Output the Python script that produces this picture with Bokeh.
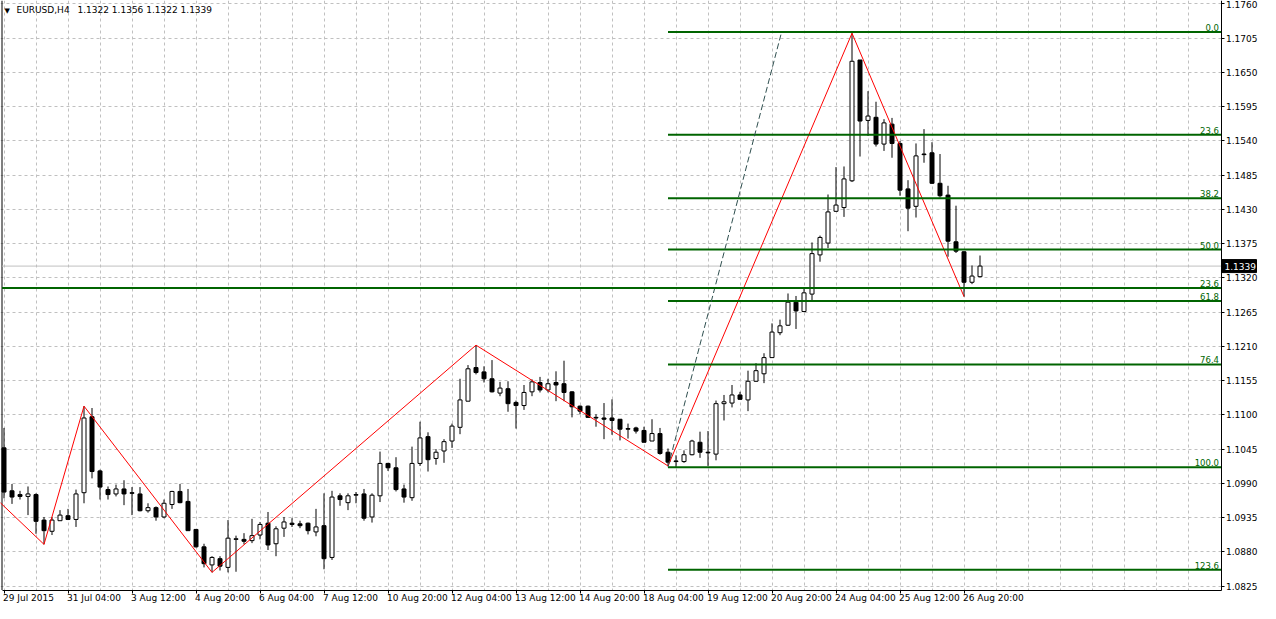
import numpy as np
from bokeh.plotting import figure
from bokeh.models import Range1d, FixedTicker, Label
from bokeh.core.properties import value
from bokeh.embed import file_html
from bokeh.resources import INLINE

# ---- data (EURUSD H4 candles) ----
opens = [1.1047, 1.0978, 1.0972, 1.0969, 1.0972, 1.0931, 1.0913, 1.0930, 1.0938, 1.0932,
         1.0975, 1.1097, 1.1010, 1.0980, 1.0973, 1.0981, 1.0975, 1.0973, 1.0946, 1.0951,
         1.0936, 1.0956, 1.0977, 1.0961, 1.0916, 1.0888, 1.0859, 1.0869, 1.0855, 1.0900,
         1.0900, 1.0898, 1.0907, 1.0926, 1.0893, 1.0918, 1.0926, 1.0925, 1.0926, 1.0912,
         1.0922, 1.0871, 1.0970, 1.0959, 1.0971, 1.0973, 1.0936, 1.0970, 1.1022, 1.1015,
         1.0981, 1.0967, 1.1022, 1.1065, 1.1030, 1.1042, 1.1058, 1.1080, 1.1122, 1.1176,
         1.1169, 1.1158, 1.1135, 1.1142, 1.1120, 1.1115, 1.1137, 1.1152, 1.1140, 1.1152,
         1.1150, 1.1137, 1.1114, 1.1114, 1.1096, 1.1095, 1.1095, 1.1093, 1.1078, 1.1079,
         1.1075, 1.1058, 1.1070, 1.1040, 1.1026, 1.1025, 1.1036, 1.1056, 1.1040, 1.1037,
         1.1118, 1.1119, 1.1132, 1.1124, 1.1154, 1.1166, 1.1192, 1.1232, 1.1244, 1.1281,
         1.1266, 1.1294, 1.1357, 1.1376, 1.1427, 1.1433, 1.1476, 1.1670, 1.1573, 1.1578,
         1.1535, 1.1567, 1.1536, 1.1463, 1.1435, 1.1519, 1.1521, 1.1472, 1.1453, 1.1378,
         1.1362, 1.1313, 1.1322]
highs = [1.1079, 1.0989, 1.0978, 1.0985, 1.0974, 1.0936, 1.0936, 1.0947, 1.0949, 1.0980,
         1.1114, 1.1111, 1.1012, 1.0985, 1.0988, 1.0995, 1.0984, 1.0984, 1.0958, 1.0953,
         1.0964, 1.0978, 1.0989, 1.0981, 1.0916, 1.0893, 1.0873, 1.0873, 1.0931, 1.0906,
         1.0910, 1.0933, 1.0928, 1.0944, 1.0921, 1.0936, 1.0934, 1.0930, 1.0927, 1.0949,
         1.0974, 1.0978, 1.0974, 1.0974, 1.0976, 1.0981, 1.0974, 1.1041, 1.1023, 1.1032,
         1.0988, 1.1049, 1.1089, 1.1072, 1.1045, 1.1061, 1.1086, 1.1158, 1.1180, 1.1212,
         1.1178, 1.1188, 1.1153, 1.1154, 1.1123, 1.1148, 1.1157, 1.1161, 1.1158, 1.1170,
         1.1187, 1.1138, 1.1115, 1.1115, 1.1101, 1.1119, 1.1125, 1.1093, 1.1086, 1.1081,
         1.1081, 1.1093, 1.1079, 1.1046, 1.1035, 1.1043, 1.1060, 1.1073, 1.1074, 1.1123,
         1.1132, 1.1148, 1.1137, 1.1171, 1.1183, 1.1199, 1.1247, 1.1253, 1.1295, 1.1291,
         1.1305, 1.1377, 1.1388, 1.1454, 1.1498, 1.1499, 1.1713, 1.1670, 1.1620, 1.1603,
         1.1575, 1.1577, 1.1540, 1.1477, 1.1536, 1.1559, 1.1538, 1.1519, 1.1468, 1.1436,
         1.1363, 1.1340, 1.1356]
lows = [1.0966, 1.0957, 1.0964, 1.0939, 1.0909, 1.0892, 1.0907, 1.0930, 1.0931, 1.0920,
        1.0958, 1.0998, 1.0964, 1.0964, 1.0969, 1.0955, 1.0939, 1.0945, 1.0943, 1.0930,
        1.0934, 1.0949, 1.0958, 1.0914, 1.0887, 1.0855, 1.0847, 1.0850, 1.0847, 1.0848,
        1.0892, 1.0894, 1.0900, 1.0883, 1.0873, 1.0904, 1.0920, 1.0918, 1.0908, 1.0905,
        1.0852, 1.0867, 1.0954, 1.0947, 1.0958, 1.0930, 1.0927, 1.0960, 1.1010, 1.0977,
        1.0959, 1.0962, 1.1018, 1.1009, 1.1020, 1.1023, 1.1047, 1.1069, 1.1122, 1.1165,
        1.1152, 1.1136, 1.1130, 1.1105, 1.1078, 1.1108, 1.1130, 1.1136, 1.1136, 1.1122,
        1.1122, 1.1096, 1.1101, 1.1095, 1.1081, 1.1061, 1.1068, 1.1059, 1.1062, 1.1070,
        1.1056, 1.1058, 1.1036, 1.1018, 1.1015, 1.1023, 1.1035, 1.1031, 1.1018, 1.1027,
        1.1091, 1.1112, 1.1125, 1.1106, 1.1153, 1.1151, 1.1192, 1.1228, 1.1243, 1.1238,
        1.1265, 1.1284, 1.1346, 1.1368, 1.1426, 1.1418, 1.1474, 1.1515, 1.1548, 1.1531,
        1.1524, 1.1513, 1.1452, 1.1395, 1.1417, 1.1505, 1.1471, 1.1449, 1.1354, 1.1360,
        1.1290, 1.1310, 1.1321]
closes = [1.0976, 1.0968, 1.0969, 1.0973, 1.0929, 1.0914, 1.0931, 1.0939, 1.0932, 1.0973,
          1.1095, 1.1009, 1.0984, 1.0972, 1.0981, 1.0973, 1.0974, 1.0946, 1.0951, 1.0936,
          1.0958, 1.0977, 1.0959, 1.0914, 1.0888, 1.0861, 1.0871, 1.0857, 1.0902, 1.0901,
          1.0897, 1.0906, 1.0924, 1.0891, 1.0917, 1.0928, 1.0924, 1.0922, 1.0914, 1.0920,
          1.0869, 1.0968, 1.0964, 1.0970, 1.0972, 1.0934, 1.0971, 1.1022, 1.1015, 1.0980,
          1.0968, 1.1022, 1.1063, 1.1028, 1.1040, 1.1057, 1.1082, 1.1124, 1.1174, 1.1168,
          1.1158, 1.1137, 1.1143, 1.1118, 1.1115, 1.1136, 1.1153, 1.1140, 1.1150, 1.1148,
          1.1136, 1.1113, 1.1106, 1.1096, 1.1095, 1.1093, 1.1091, 1.1077, 1.1077, 1.1074,
          1.1056, 1.1070, 1.1038, 1.1024, 1.1025, 1.1036, 1.1058, 1.1040, 1.1039, 1.1118,
          1.1121, 1.1132, 1.1125, 1.1154, 1.1171, 1.1192, 1.1233, 1.1243, 1.1281, 1.1267,
          1.1296, 1.1359, 1.1385, 1.1426, 1.1437, 1.1479, 1.1668, 1.1572, 1.1580, 1.1535,
          1.1569, 1.1536, 1.1461, 1.1432, 1.1516, 1.1518, 1.1472, 1.1452, 1.1379, 1.1363,
          1.1313, 1.1323, 1.1339]

x_tick_bars = [0, 8, 16, 24, 32, 40, 48, 56, 64, 72, 80, 88, 96, 104, 112, 120]
x_tick_labels = ["29 Jul 2015", "31 Jul 04:00", "3 Aug 12:00", "4 Aug 20:00", "6 Aug 04:00",
                 "7 Aug 12:00", "10 Aug 20:00", "12 Aug 04:00", "13 Aug 12:00", "14 Aug 20:00",
                 "18 Aug 04:00", "19 Aug 12:00", "20 Aug 20:00", "24 Aug 04:00", "25 Aug 12:00",
                 "26 Aug 20:00"]
y_ticks = [1.0825, 1.0880, 1.0935, 1.0990, 1.1045, 1.1100, 1.1155, 1.1210, 1.1265,
           1.1320, 1.1375, 1.1430, 1.1485, 1.1540, 1.1595, 1.1650, 1.1705, 1.1760]
y_tick_labels = ["1.0825", "1.0880", "1.0935", "1.0990", "1.1045", "1.1100", "1.1155",
                 "1.1210", "1.1265", "1.1320", "1.1375", "1.1430", "1.1485", "1.1540",
                 "1.1595", "1.1650", "1.1705", "1.1760"]

zigzag_bars = [-3, 5, 10, 26, 59, 83, 106, 120]
zigzag_prices = [1.0990, 1.0892, 1.1114, 1.0847, 1.1212, 1.1018, 1.1713, 1.1290]

fib_ratios = [0.0, 23.6, 38.2, 50.0, 61.8, 76.4, 100.0, 123.6]
fib_high = 1.1715
fib_low = 1.1016
fib_start_bar = 83
fib_trend_bars = [83, 97.2]
fib_trend_prices = [1.1016, 1.1715]

old_fib_price = 1.1304
old_fib_label = "23.6"
last_price = 1.1339
last_price_text = "1.1339"
symbol_text = "EURUSD,H4"
ohlc_text = "1.1322 1.1356 1.1322 1.1339"

# ---- layout constants (pixels) ----
FONT = "DejaVu Sans"
FW, FH = 1260, 603
PX_PER_BAR = 8.0
FIRST_BAR_PX = 3.5          # centre of bar 0
AXIS_PX = 1220.5            # right price axis line
BORDER_PX = 1.5             # left border line
PLOT_TOP_PX, PLOT_BOTTOM_PX = 2.0, 589.5
PLOT_TOP_PRICE, PLOT_BOTTOM_PRICE = 1.17624, 1.08187

x0 = -FIRST_BAR_PX / PX_PER_BAR
x1 = x0 + FW / PX_PER_BAR
x_axis = x0 + AXIS_PX / PX_PER_BAR
x_border = x0 + BORDER_PX / PX_PER_BAR
ppu = (PLOT_BOTTOM_PX - PLOT_TOP_PX) / (PLOT_TOP_PRICE - PLOT_BOTTOM_PRICE)  # px per price unit
y1 = PLOT_TOP_PRICE + PLOT_TOP_PX / ppu
y0 = y1 - FH / ppu

p = figure(frame_width=FW, frame_height=FH,
           x_range=Range1d(x0, x1), y_range=Range1d(y0, y1),
           output_backend="svg", toolbar_location=None,
           y_axis_location="right", x_axis_location="below",
           min_border_left=0, min_border_top=0, min_border_right=0, min_border_bottom=0)
p.outline_line_color = None
p.background_fill_color = "white"
p.border_fill_color = "white"

# grid
p.xgrid.ticker = FixedTicker(ticks=list(range(0, 152, 4)))
p.xgrid.grid_line_color = "#c0c0c0"
p.xgrid.grid_line_dash = "3 3"
p.ygrid.grid_line_color = "#c0c0c0"
p.ygrid.grid_line_dash = "3 3"

# white margins covering the grid outside the plot area
p.quad(left=[x_axis, x0 - 1], right=[x1 + 1, x1 + 1],
       top=[y1 + 1, PLOT_BOTTOM_PRICE], bottom=[y0 - 1, y0 - 1],
       fill_color="white", line_color=None)

# axes fixed at the plot edges
p.yaxis.fixed_location = x_axis
p.yaxis.bounds = (PLOT_BOTTOM_PRICE, y1)
p.yaxis.ticker = FixedTicker(ticks=y_ticks)
p.yaxis.major_label_overrides = {t: s for t, s in zip(y_ticks, y_tick_labels)}
p.xaxis.fixed_location = PLOT_BOTTOM_PRICE
p.xaxis.bounds = (x_border, x_axis)
p.xaxis.ticker = FixedTicker(ticks=x_tick_bars)
p.xaxis.major_label_overrides = {b: "" for b in x_tick_bars}
for ax in (p.xaxis, p.yaxis):
    ax.axis_line_color = "black"
    ax.major_tick_line_color = "black"
    ax.major_tick_in = 0
    ax.major_tick_out = 3
    ax.minor_tick_line_color = None
    ax.major_label_text_font = FONT
    ax.major_label_text_font_size = "9px"
    ax.major_label_text_color = "black"
    ax.major_label_standoff = 2

# left border
p.segment([x_border], [PLOT_BOTTOM_PRICE], [x_border], [y1], line_color="black", line_width=1)

# date labels, left-aligned at their ticks
p.text(x_tick_bars, [PLOT_BOTTOM_PRICE] * len(x_tick_bars), text=x_tick_labels,
       text_align="left", text_baseline="top", x_offset=-1, y_offset=3,
       text_font=value(FONT), text_font_size="9px", text_color="black")

# current price line
p.segment([x_border], [last_price], [x_axis], [last_price], line_color="#c0c0c0", line_width=1)

# candles
o = np.array(opens); h = np.array(highs); l = np.array(lows); c = np.array(closes)
idx = np.arange(len(o))
up = c >= o
p.segment(idx, h, idx, l, line_color="black", line_width=1)
p.vbar(x=idx[up], width=0.5, top=c[up], bottom=o[up], fill_color="white", line_color="black", line_width=1)
p.vbar(x=idx[~up], width=0.5, top=o[~up], bottom=c[~up], fill_color="black", line_color="black", line_width=1)

# zigzag
p.line(zigzag_bars, zigzag_prices, line_color="#ff0000", line_width=1)

# fibonacci
fib_prices = [fib_high - r / 100.0 * (fib_high - fib_low) for r in fib_ratios]
n = len(fib_prices)
p.segment([fib_start_bar] * n, fib_prices, [x_axis] * n, fib_prices, line_color="#006400", line_width=2)
p.line(fib_trend_bars, fib_trend_prices, line_color="#2f4f4f", line_width=1, line_dash="6 3")
p.text([x_axis - 0.25] * n, fib_prices, text=[f"{r:.1f}" for r in fib_ratios],
       text_align="right", text_baseline="bottom", y_offset=-1,
       text_font=value(FONT), text_font_size="8.5px", text_color="#006400")

# older fib level across the chart
p.segment([x_border], [old_fib_price], [x_axis], [old_fib_price], line_color="#006400", line_width=2)
p.text([x_axis - 0.25], [old_fib_price], text=[old_fib_label],
       text_align="right", text_baseline="bottom", y_offset=-1,
       text_font=value(FONT), text_font_size="8.5px", text_color="#006400")

# last price tag on the price axis
tag_h = 6.5 / ppu
p.quad(left=[x_axis + 0.5 / PX_PER_BAR], right=[x_axis + 35.5 / PX_PER_BAR],
       top=[last_price + tag_h], bottom=[last_price - tag_h],
       fill_color="black", line_color="black")
p.text([x_axis + 3.5 / PX_PER_BAR], [last_price], text=[last_price_text],
       text_align="left", text_baseline="middle",
       text_font=value(FONT), text_font_size="9px", text_color="white")

# header
p.add_layout(Label(x=4, y=FH - 6, x_units="screen", y_units="screen", text="\u25bc",
                   text_font=FONT, text_font_size="7px", text_color="black", text_baseline="top"))
p.add_layout(Label(x=16, y=FH - 4, x_units="screen", y_units="screen", text=symbol_text,
                   text_font=FONT, text_font_size="9px", text_color="black", text_baseline="top"))
p.add_layout(Label(x=77, y=FH - 4, x_units="screen", y_units="screen", text=ohlc_text,
                   text_font=FONT, text_font_size="9px", text_color="black", text_baseline="top"))

open("out.html", "w").write(file_html(p, INLINE))
